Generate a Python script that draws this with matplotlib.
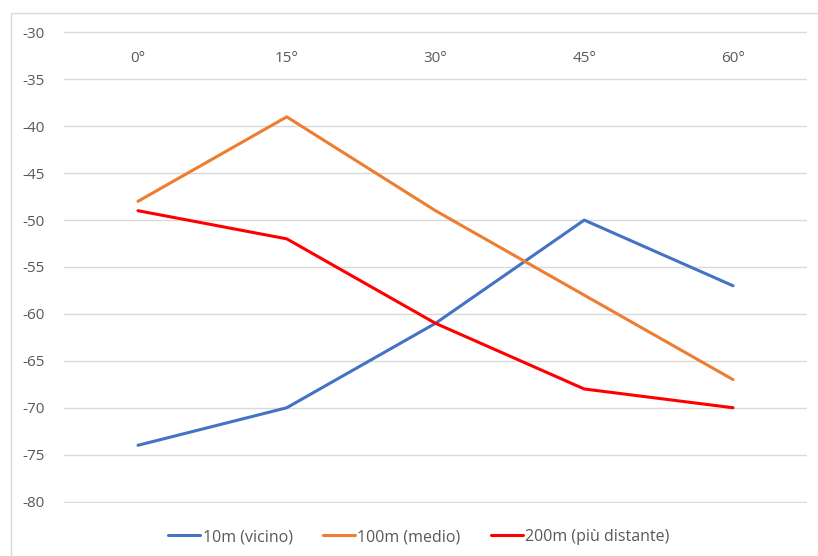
import matplotlib.pyplot as plt
from matplotlib.patches import Rectangle

plt.rcParams['font.family'] = ['Open Sans', 'DejaVu Sans']
plt.rcParams['axes.unicode_minus'] = False

angles = ['0°', '15°', '30°', '45°', '60°']
near_10m = [-74, -70, -61, -50, -57]
mid_100m = [-48, -39, -49, -58, -67]
far_200m = [-49, -52, -61, -68, -70]

series_names = ['10m (vicino)', '100m (medio)', '200m (più distante)']
series_colors = ['#4472C4', '#ED7D31', '#FF0000']

W, H = 818, 556
fig = plt.figure(figsize=(W / 100, H / 100), dpi=100)

# chart frame, clipped at the right and bottom edges
fig.patches.append(Rectangle((11 / W, -0.1), 1.2, 1 - 13 / H + 0.1,
                             transform=fig.transFigure, fill=False,
                             edgecolor='#D9D9D9', linewidth=1.0))

ax = fig.add_axes([63.6 / W, 1 - 503 / H, (807.4 - 63.6) / W, (503 - 31) / H])

x = range(len(angles))
for vals, name, col in zip([near_10m, mid_100m, far_200m], series_names, series_colors):
    ax.plot(x, vals, color=col, linewidth=2.2, label=name, solid_capstyle='round')

ax.set_xlim(-0.5, len(angles) - 0.5)
ax.set_ylim(-80.15, -29.85)
ax.set_yticks(range(-80, -29, 5))
ax.grid(axis='y', color='#D9D9D9', linewidth=1)
ax.set_axisbelow(True)
for s in ax.spines.values():
    s.set_visible(False)

ax.set_xticks(list(x))
ax.set_xticklabels(angles)
ax.tick_params(axis='x', top=False, bottom=False, labelbottom=False, labeltop=True,
               pad=-25, labelsize=11, labelcolor='#595959', length=0)
ax.tick_params(axis='y', length=0, pad=13.4, labelsize=11, labelcolor='#595959')

leg = ax.legend(loc='center', bbox_to_anchor=(419 / W, 1 - 537 / H),
                bbox_transform=fig.transFigure, ncol=3, frameon=False,
                fontsize=11.5, handlelength=2.0, handletextpad=0.15, columnspacing=1.9)
for t in leg.get_texts():
    t.set_color('#595959')

fig.savefig('out.png', dpi=100)
